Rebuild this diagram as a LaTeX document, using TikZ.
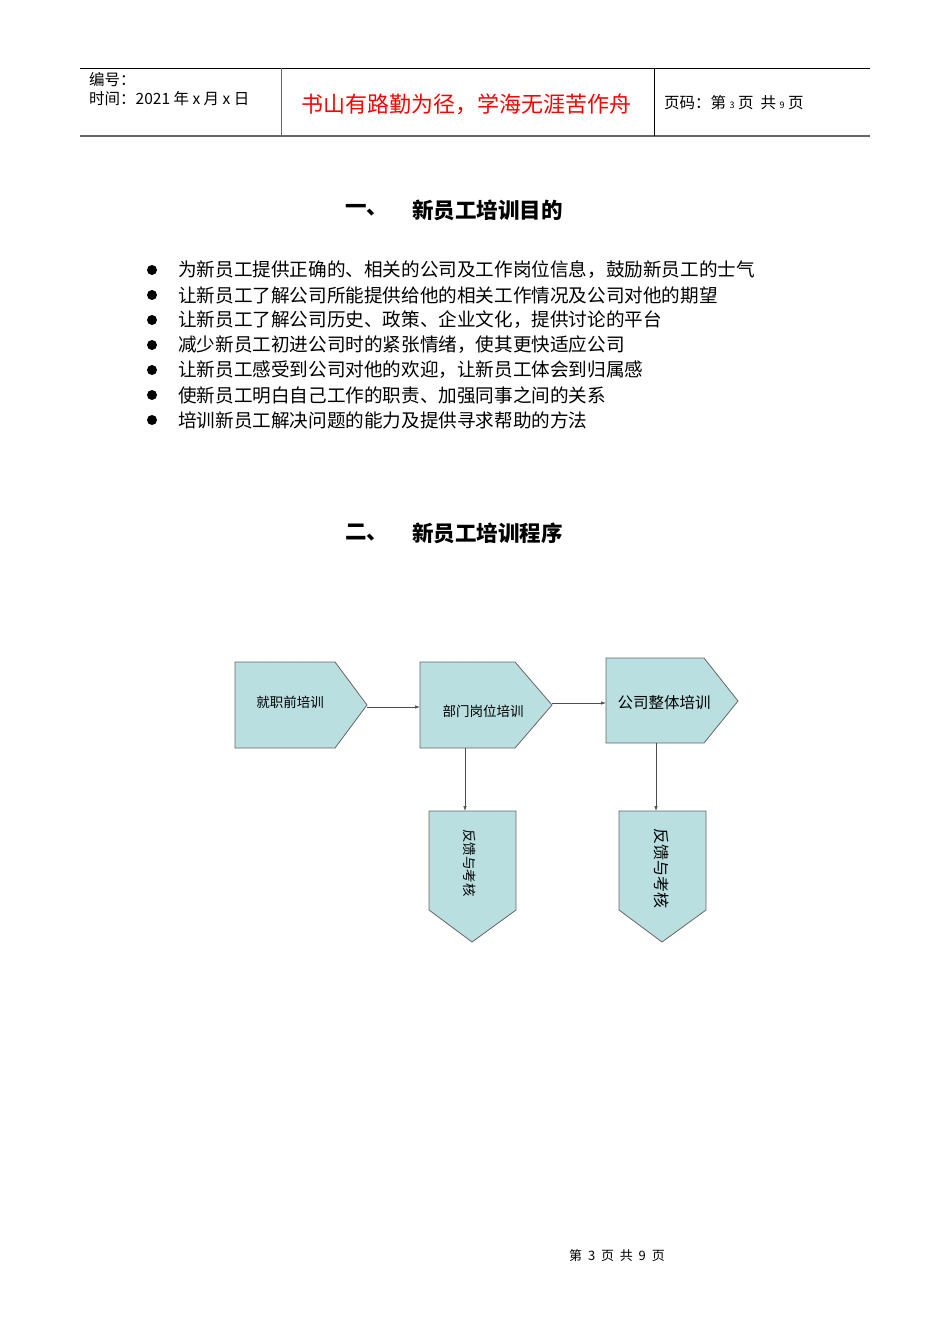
\documentclass[tikz,border=0pt]{standalone}
\usepackage{fontspec}
\setmainfont{Noto Sans CJK SC}
\begin{document}
\begin{tikzpicture}[x=1pt,y=-1pt,
  box/.style={draw=black!60,fill=shapefill,line width=0.8pt},
  conn/.style={draw=black!70,line width=0.7pt,-{Latex[length=5pt,width=3.5pt]}},
  body/.style={anchor=west,font=\fontsize{18.6}{18.6}\selectfont,inner sep=0},
  lbl/.style={font=\fontsize{13.5}{13.5}\selectfont,inner sep=0}]
\usetikzlibrary{arrows.meta}
\definecolor{shapefill}{HTML}{BADFE0}
\useasboundingbox (0,0) rectangle (950,1344);
% header
\draw[line width=0.8pt] (80,68) -- (870,68);
\draw[black!60,line width=1.6pt] (80,136) -- (870,136);
\draw[black!60,line width=0.8pt] (281,68) -- (281,136);
\draw[line width=0.8pt] (654,68) -- (654,136);
\node[body,font=\fontsize{15.5}{15.5}\selectfont] (h1) at (89,80) {编号：};
\node[body,font=\fontsize{15.5}{15.5}\selectfont] (h2) at (89,99) {时间：2021 年 x 月 x 日};
\node[body,font=\fontsize{22}{22}\selectfont,text=red] (h3) at (301,104) {书山有路勤为径，学海无涯苦作舟};
\node[body,font=\fontsize{15.5}{15.5}\selectfont] (h4) at (664,103) {页码：第 {\small 3} 页\ \ 共 {\small 9} 页};
% headings
\node[body,font=\fontsize{21.5}{21.5}\selectfont\bfseries] (t1a) at (345,210) {一、};
\node[body,font=\fontsize{21.5}{21.5}\selectfont\bfseries] (t1b) at (412,210) {新员工培训目的};
\node[body,font=\fontsize{21.5}{21.5}\selectfont\bfseries] (t2a) at (345,533) {二、};
\node[body,font=\fontsize{21.5}{21.5}\selectfont\bfseries] (t2b) at (412,533) {新员工培训程序};
% bullets
\foreach \t [count=\i] in {为新员工提供正确的、相关的公司及工作岗位信息，鼓励新员工的士气,
 让新员工了解公司所能提供给他的相关工作情况及公司对他的期望,
 让新员工了解公司历史、政策、企业文化，提供讨论的平台,
 减少新员工初进公司时的紧张情绪，使其更快适应公司,
 让新员工感受到公司对他的欢迎，让新员工体会到归属感,
 使新员工明白自己工作的职责、加强同事之间的关系,
 培训新员工解决问题的能力及提供寻求帮助的方法}{
  \fill (152,{270+25*(\i-1)}) circle (5pt);
  \node[body] (b\i) at (178,{270+25*(\i-1)}) {\t};
}
% flow shapes
\draw[box] (235,662) -- (335,662) -- (367,705) -- (335,748) -- (235,748) -- cycle;
\coordinate (Atip) at (367,707);
\node[lbl] (A) at (290,702) {就职前培训};
\draw[box] (420,662) -- (515,662) -- (552,705) -- (515,748) -- (420,748) -- cycle;
\coordinate (Bin) at (420,707);
\coordinate (Bout) at (552,703);
\coordinate (Bbot) at (465,748);
\node[lbl] (B) at (483,711) {部门岗位培训};
\draw[box] (606,658) -- (704,658) -- (738,701) -- (704,743) -- (606,743) -- cycle;
\coordinate (Cin) at (606,703);
\coordinate (Cbot) at (656,743);
\node[lbl,font=\fontsize{15.5}{15.5}\selectfont] (C) at (664,703) {公司整体培训};
\draw[box] (429,811) -- (516,811) -- (516,910) -- (472,942) -- (429,910) -- cycle;
\coordinate (D1t) at (465,811);
\node[lbl,rotate=-90] (D1) at (470,863) {反馈与考核};
\draw[box] (619,811) -- (706,811) -- (706,910) -- (662,942) -- (619,910) -- cycle;
\coordinate (D2t) at (656,811);
\node[lbl,rotate=-90,font=\fontsize{16}{16}\selectfont] (D2) at (662,868) {反馈与考核};
\draw[conn] (Atip) -- (Bin);
\draw[conn] (Bout) -- (Cin);
\draw[conn] (Bbot) -- (D1t);
\draw[conn] (Cbot) -- (D2t);
% footer
\node[lbl,font=\fontsize{13}{13}\selectfont] (ft) at (617,1256) {第\ \ 3\ \ 页\ \ 共\ \ 9\ \ 页};
\end{tikzpicture}
\end{document}
